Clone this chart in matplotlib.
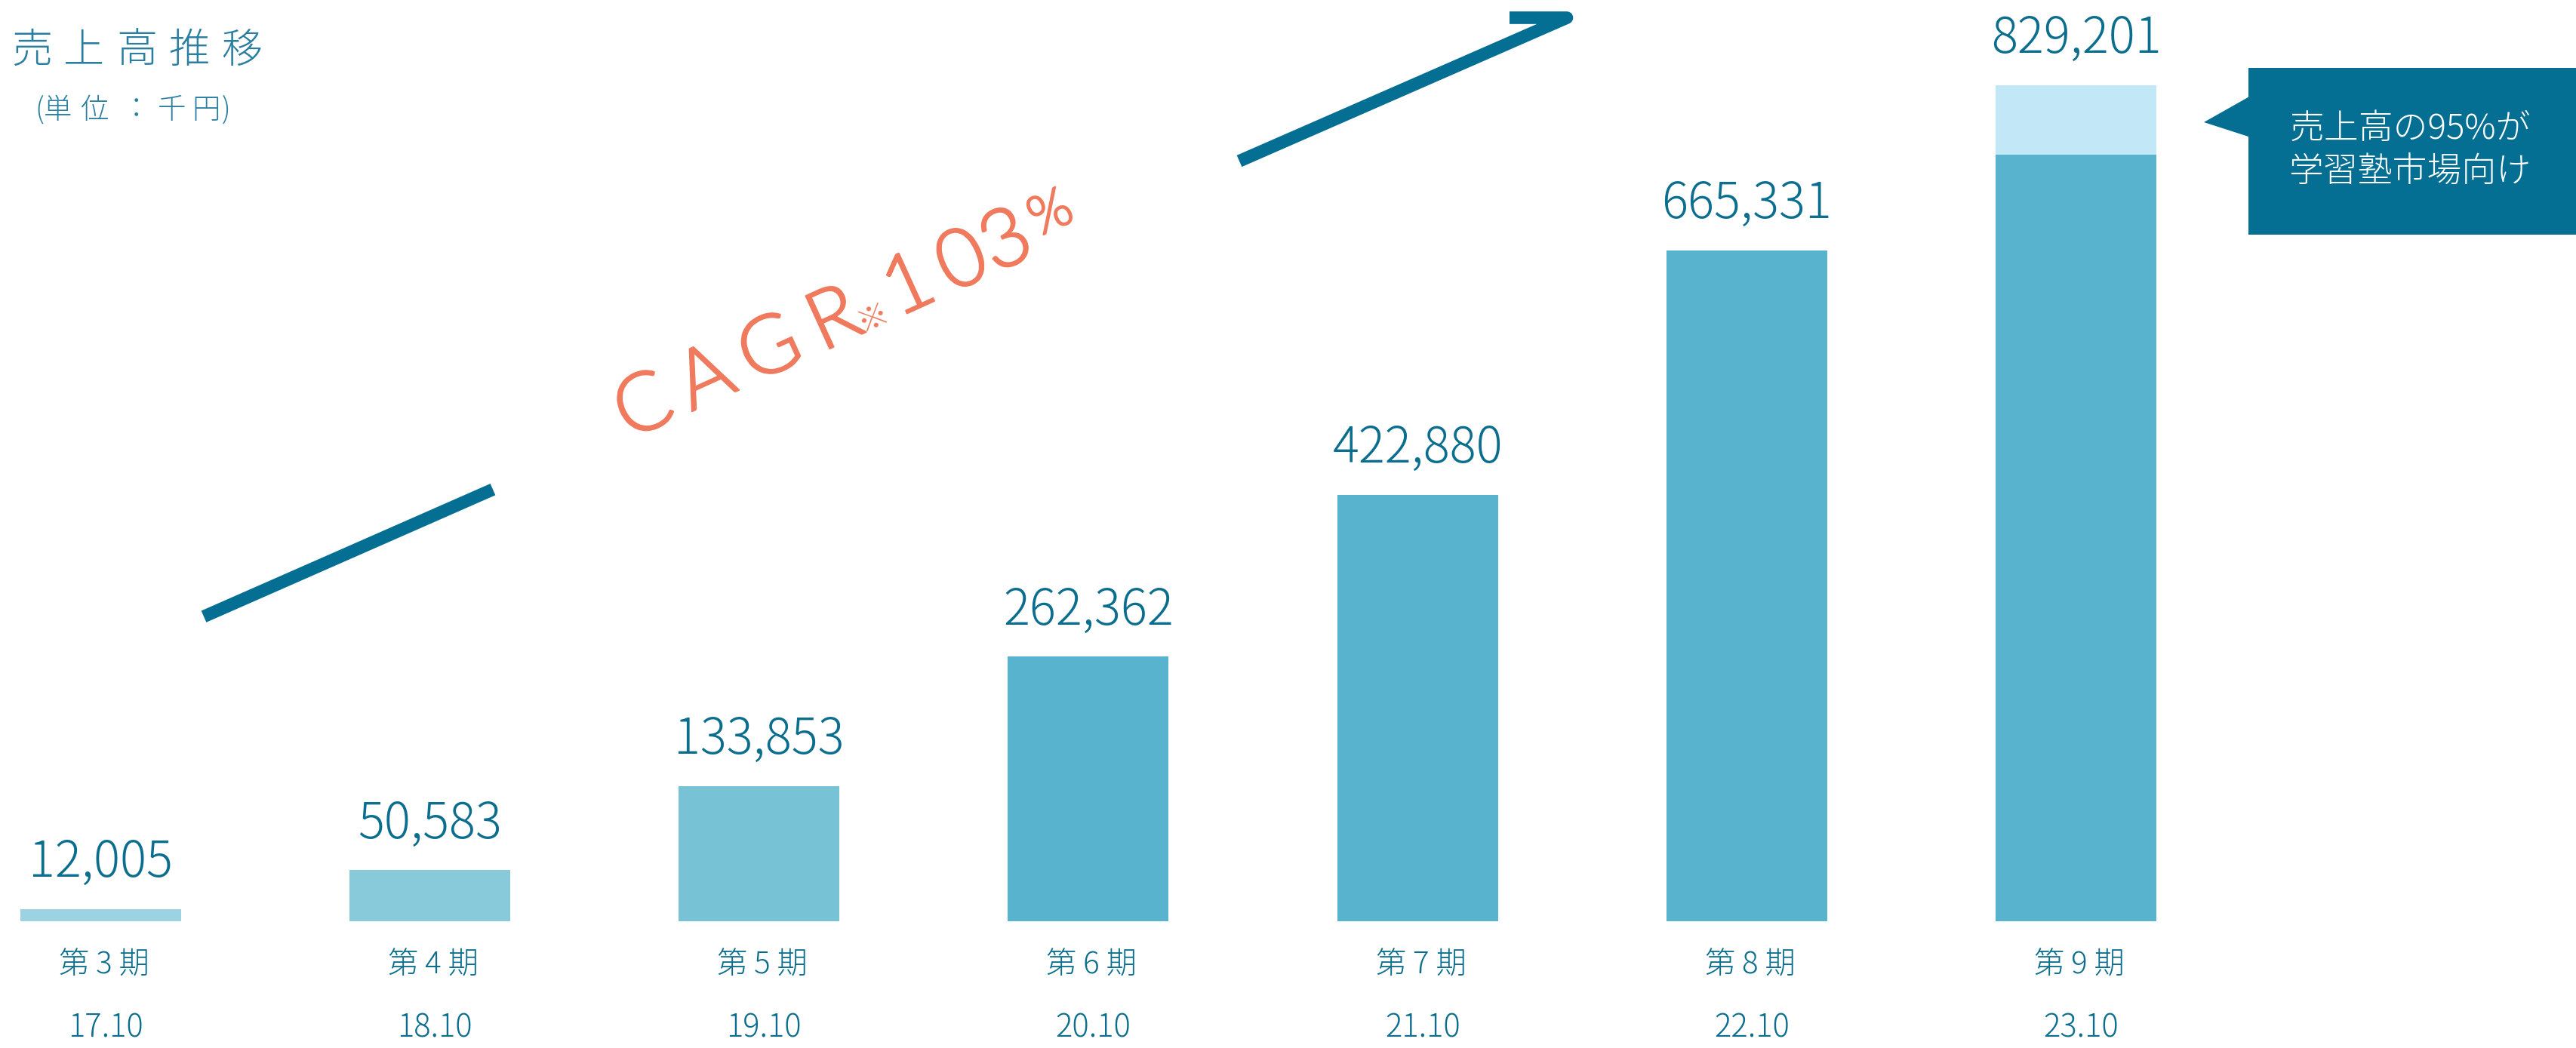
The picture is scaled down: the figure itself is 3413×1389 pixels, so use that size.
import numpy as np
import matplotlib
matplotlib.use("Agg")
import matplotlib.pyplot as plt
import matplotlib.patheffects as pe
from matplotlib.transforms import Affine2D
from matplotlib.patches import Polygon, Rectangle

plt.rcParams['font.family'] = ['Noto Sans CJK JP', 'DejaVu Sans']

# ------------------------------ データ ------------------------------
periods = ['第 3 期', '第 4 期', '第 5 期', '第 6 期', '第 7 期', '第 8 期', '第 9 期']
dates = ['17.10', '18.10', '19.10', '20.10', '21.10', '22.10', '23.10']
sales = [12005, 50583, 133853, 262362, 422880, 665331, 829201]
juku_part = 760000          # 第9期のうち学習塾市場向け (濃い部分)
bar_colors = ['#9BD3E2', '#88CADA', '#78C2D6', '#58B4CE', '#58B4CE', '#58B4CE', '#C2E8F7']
juku_color = '#58B4CE'

title_chars = ['売', '上', '高', '推', '移']
unit_chars = ['(', '単', '位', '：', '千', '円', ')']
callout_lines = ['売上高の95%が', '学習塾市場向け']
cagr_chars = [('C', -90), ('A', 0), ('G', 94), ('R', 188), ('1', 296), ('0', 374), ('3', 438)]

dark = '#046F92'
label_col = '#0C6E8E'
title_col = '#2A7FA0'
coral = '#EF7A5E'

W, H = 3413, 1389
fig = plt.figure(figsize=(W / 100, H / 100), dpi=100)
# 参照画像のピクセル座標で装飾を描くための変換
pix = Affine2D().scale(1 / W, -1 / H).translate(0, 1) + fig.transFigure

base_px = 1221
ax = fig.add_axes([0, (H - base_px) / H, 1, base_px / H])
x = np.arange(len(sales))
ax.bar(x, sales, width=0.488, color=bar_colors, zorder=2)
ax.bar(x[-1], juku_part, width=0.488, color=juku_color, zorder=3)
ax.set_xlim(-0.305, 7.518)
ax.set_ylim(0, 913780)
ax.axis('off')

for xi, v in zip(x, sales):
    ax.annotate(f'{v:,}', (xi, v), xytext=(0, 31), textcoords='offset points',
                ha='center', va='baseline', fontsize=47, color=label_col,
                fontweight='light')

tr = ax.get_xaxis_transform()
for xi, p, d in zip(x, periods, dates):
    ax.text(xi + 0.01, -0.048, p, transform=tr, ha='center', va='center',
            fontsize=29, color=label_col, fontweight='light')
    ax.text(xi + 0.015, -0.116, d, transform=tr, ha='center', va='center',
            fontsize=30, color=label_col, fontweight='light')

# タイトル
for k, c in enumerate(title_chars):
    fig.text(42 + 69.5 * k, 67, c, transform=pix, ha='center', va='center',
             fontsize=39, color=title_col, fontweight='light')
unit_x = [52, 77, 125, 180, 228, 273, 300]
for ux, c in zip(unit_x, unit_chars):
    fig.text(ux, 146, c, transform=pix, ha='center', va='center',
             fontsize=27, color=title_col, fontweight='light')

# 吹き出し
fig.patches.append(Rectangle((2979, 90), W - 2979, 221, transform=pix,
                             facecolor=dark, edgecolor='none'))
fig.patches.append(Polygon([(2920, 162), (2982, 127), (2982, 182)], closed=True,
                           transform=pix, facecolor=dark, edgecolor='none'))
for k, line in enumerate(callout_lines):
    fig.text(3193, 171 + 57 * k, line, transform=pix, ha='center', va='center',
             fontsize=33, color='white', fontweight='light')

# 矢印 (途中で CAGR の文字のため途切れる)
slope = 0.44
def yline(xp):
    return 213.5 + (1642 - xp) * slope
fig.add_artist(plt.Line2D([270, 653], [yline(270), yline(653)], transform=pix,
                          color=dark, lw=12, solid_capstyle='butt'))
fig.add_artist(plt.Line2D([1642, 2076, 2000], [yline(1642), 23.5, 23.5], transform=pix,
                          color=dark, lw=12, solid_capstyle='butt',
                          solid_joinstyle='round'))

# CAGR※103%
ang = 24.5
ox, oy = 948, 531
dx, dy = np.cos(np.radians(ang)), -np.sin(np.radians(ang))
nx, ny = -np.sin(np.radians(ang)), -np.cos(np.radians(ang))
thick = [pe.withStroke(linewidth=1.6, foreground=coral)]
for c, s in cagr_chars:
    fig.text(ox + s * dx, oy + s * dy, c, transform=pix, rotation=ang,
             rotation_mode='anchor', ha='center', va='baseline',
             fontsize=78, color=coral, family=['Lato', 'DejaVu Sans'],
             fontweight=300, path_effects=thick)
fig.text(ox + 235 * dx, oy + 235 * dy, '※', transform=pix, rotation=ang,
         rotation_mode='anchor', ha='center', va='baseline',
         fontsize=30, color=coral, fontweight='light')
fig.text(ox + 507 * dx + 20 * nx, oy + 507 * dy + 20 * ny, '%', transform=pix,
         rotation=ang, rotation_mode='anchor', ha='center', va='baseline',
         fontsize=52, color=coral, family=['Lato', 'DejaVu Sans'],
         fontweight=300, path_effects=thick)

fig.savefig('out.png', dpi=100)
